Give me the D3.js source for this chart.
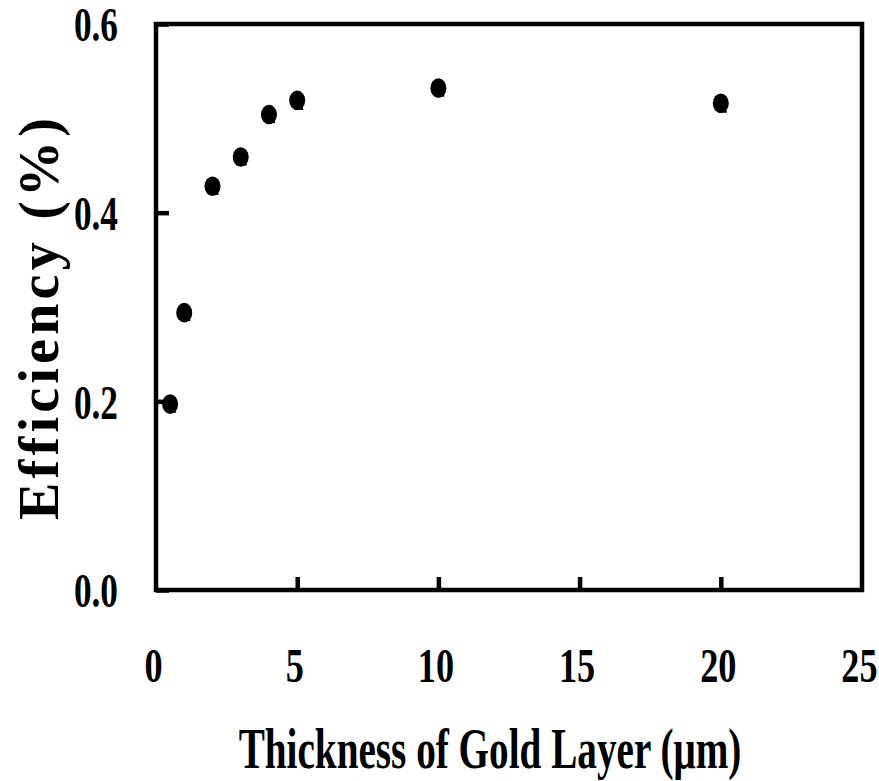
<!DOCTYPE html>
<html>
<head>
<meta charset="utf-8">
<script src="https://cdn.jsdelivr.net/npm/d3@7"></script>
<style>
  html, body { margin: 0; padding: 0; background: #fff; }
  svg { display: block; }
  text { font-family: "Liberation Serif", "Times New Roman", serif; font-weight: bold; fill: #000; }
</style>
</head>
<body>
<svg id="chart" width="879" height="781"></svg>
<script>
// ---- data ----
const thickness = [0.5, 1, 2, 3, 4, 5, 10, 20];            // µm
const efficiency = [0.197, 0.294, 0.428, 0.459, 0.504, 0.519, 0.532, 0.516]; // %
const errors = [0.008, 0.008, 0.008, 0.008, 0.008, 0.009, 0.008, 0.009];
const xTicks = [0, 5, 10, 15, 20, 25];
const yTicks = [0.0, 0.2, 0.4, 0.6];
const xTitle = "Thickness of Gold Layer (\u03bcm)";
const yTitle = "Efficiency (%)";

const svg = d3.select("#chart");
const plotL = 156, plotR = 862, plotT = 24, plotB = 590;

const x = d3.scaleLinear().domain([0, 25]).range([plotL, plotR]);
const y = d3.scaleLinear().domain([0, 0.6]).range([plotB, plotT]);

// horizontally condense a text around its anchor point (via transform)
const condense = (sel, f, tx, ty) => sel.each(function () {
  const t = d3.select(this);
  const px = tx !== undefined ? tx : +t.attr("x") || 0;
  const py = ty !== undefined ? ty : +t.attr("y") || 0;
  t.attr("x", 0).attr("y", 0).attr("transform", `translate(${px},${py}) scale(${f},1)`);
});

// left axis (inward ticks)
const gy = svg.append("g").attr("transform", `translate(${plotL},0)`)
  .call(d3.axisLeft(y).tickValues(yTicks).tickFormat(d3.format(".1f"))
    .tickSizeInner(-13).tickSizeOuter(0).tickPadding(38));
gy.select(".domain").remove();
gy.selectAll(".tick line").attr("stroke", "#000").attr("stroke-width", 4.5);
gy.selectAll(".tick text").attr("font-size", 49).attr("font-family", null)
  .attr("dy", "0.34em").call(condense, 0.72, -38, 0);

// bottom axis
const gx = svg.append("g").attr("transform", `translate(0,${plotB})`)
  .call(d3.axisBottom(x).tickValues(xTicks).tickFormat(d3.format("d"))
    .tickSizeInner(-13).tickSizeOuter(0).tickPadding(0));
gx.select(".domain").remove();
gx.selectAll(".tick line").attr("stroke", "#000").attr("stroke-width", 4.5)
  .filter(d => d === 0 || d === 25).remove();
gx.selectAll(".tick text").attr("font-size", 49).attr("font-family", null)
  .attr("dy", 0).call(condense, 0.74, -3, 92);

// frame
svg.append("rect")
  .attr("x", plotL).attr("y", plotT)
  .attr("width", plotR - plotL).attr("height", plotB - plotT)
  .attr("fill", "none").attr("stroke", "#000").attr("stroke-width", 4.5);

// error bars
const pts = thickness.map((t, i) => ({ t, e: efficiency[i], err: errors[i] }));
const eb = svg.append("g").attr("stroke", "#000").attr("stroke-width", 2);
eb.selectAll("line.v").data(pts).join("line").attr("class", "v")
  .attr("x1", d => x(d.t) + 1).attr("x2", d => x(d.t) + 1)
  .attr("y1", d => y(d.e + d.err)).attr("y2", d => y(d.e - d.err));
eb.selectAll("line.c").data(pts).join("line").attr("class", "c")
  .attr("x1", d => x(d.t) - 3).attr("x2", d => x(d.t) + 6)
  .attr("y1", d => y(d.e - d.err)).attr("y2", d => y(d.e - d.err));

// markers
svg.append("g").selectAll("ellipse").data(pts).join("ellipse")
  .attr("cx", d => x(d.t)).attr("cy", d => y(d.e))
  .attr("rx", 8).attr("ry", 9.8).attr("fill", "#000");

// axis titles
svg.append("text")
  .attr("text-anchor", "middle").attr("font-size", 56)
  .text(xTitle).call(condense, 0.70, 490, 768);

svg.append("text")
  .attr("transform", "translate(58,319) rotate(-90)")
  .attr("text-anchor", "middle").attr("font-size", 56)
  .text(yTitle)
  .attr("textLength", 402).attr("lengthAdjust", "spacing");
</script>
</body>
</html>
